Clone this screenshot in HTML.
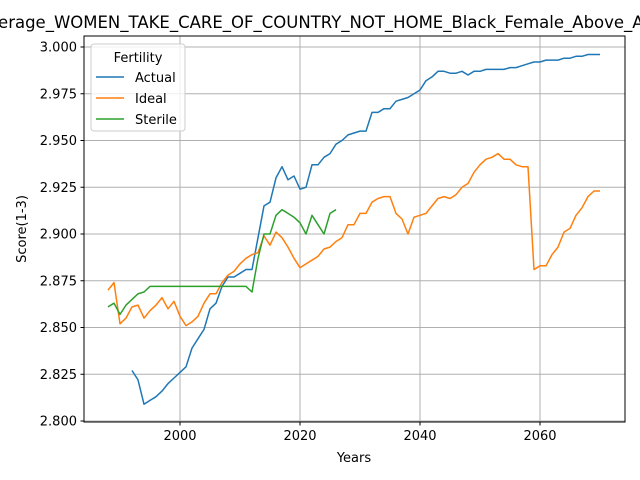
<!DOCTYPE html>
<html><head><meta charset="utf-8"><style>
body{margin:0;background:#fff;}
svg{display:block;font-family:"DejaVu Sans","Liberation Sans",sans-serif;}
</style></head><body>
<svg id="chart" width="640" height="480" viewBox="0 0 640 480">
<text x="339" y="28" font-size="16.5" text-anchor="middle">Average_WOMEN_TAKE_CARE_OF_COUNTRY_NOT_HOME_Black_Female_Above_Average</text>
<g id="grid"></g>
<g id="series"></g>
<rect x="84" y="36" width="541" height="386" fill="none" stroke="#000" stroke-width="1"/>
<g id="ticks"></g>
<text x="354" y="462" font-size="13" text-anchor="middle">Years</text>
<text x="26" y="229" font-size="13" text-anchor="middle" transform="rotate(-90 26 229)">Score(1-3)</text>
<g>
<rect x="91" y="44" width="94" height="87" rx="3" fill="#fff" fill-opacity="0.8" stroke="#ccc"/>
<text x="138" y="62" font-size="13" text-anchor="middle">Fertility</text>
<line x1="96" y1="77" x2="124" y2="77" stroke="#1f77b4" stroke-width="1.5"/>
<text x="135" y="82" font-size="13">Actual</text>
<line x1="96" y1="98" x2="124" y2="98" stroke="#ff7f0e" stroke-width="1.5"/>
<text x="135" y="103" font-size="13">Ideal</text>
<line x1="96" y1="119" x2="124" y2="119" stroke="#2ca02c" stroke-width="1.5"/>
<text x="135" y="124" font-size="13">Sterile</text>
</g>
</svg>
<script>
const xTicks = [2000, 2020, 2040, 2060];
const yTicks = [2.800, 2.825, 2.850, 2.875, 2.900, 2.925, 2.950, 2.975, 3.000];
const idealStart = 1988;
const idealValues = [2.870,2.874,2.852,2.855,2.861,2.862,2.855,2.859,2.862,2.866,2.860,2.864,2.856,2.851,2.853,2.856,2.863,2.868,2.868,2.874,2.878,2.880,2.884,2.887,2.889,2.890,2.899,2.894,2.901,2.898,2.893,2.887,2.882,2.884,2.886,2.888,2.892,2.893,2.896,2.898,2.905,2.905,2.911,2.911,2.917,2.919,2.920,2.920,2.911,2.908,2.900,2.909,2.910,2.911,2.915,2.919,2.920,2.919,2.921,2.925,2.927,2.933,2.937,2.940,2.941,2.943,2.940,2.940,2.937,2.936,2.936,2.881,2.883,2.883,2.889,2.893,2.901,2.903,2.910,2.914,2.920,2.923,2.923];
const actualStart = 1992;
const actualValues = [2.827,2.822,2.809,2.811,2.813,2.816,2.820,2.823,2.826,2.829,2.839,2.844,2.849,2.860,2.863,2.872,2.877,2.877,2.879,2.881,2.881,2.898,2.915,2.917,2.930,2.936,2.929,2.931,2.924,2.925,2.937,2.937,2.941,2.943,2.948,2.950,2.953,2.954,2.955,2.955,2.965,2.965,2.967,2.967,2.971,2.972,2.973,2.975,2.977,2.982,2.984,2.987,2.987,2.986,2.986,2.987,2.985,2.987,2.987,2.988,2.988,2.988,2.988,2.989,2.989,2.990,2.991,2.992,2.992,2.993,2.993,2.993,2.994,2.994,2.995,2.995,2.996,2.996,2.996];
const sterileStart = 1988;
const sterileValues = [2.861,2.863,2.857,2.862,2.865,2.868,2.869,2.872,2.872,2.872,2.872,2.872,2.872,2.872,2.872,2.872,2.872,2.872,2.872,2.872,2.872,2.872,2.872,2.872,2.869,2.887,2.900,2.900,2.910,2.913,2.911,2.909,2.906,2.900,2.910,2.905,2.900,2.911,2.913];

const NS = "http://www.w3.org/2000/svg";
function xs(year){ return 180 + (year - 2000) * 6; }
function ys(v){ return 421 - (v - 2.8) * 1870; }
const grid = document.getElementById('grid');
const ticks = document.getElementById('ticks');
function mk(tag, attrs, parent){ const e = document.createElementNS(NS, tag); for (const k in attrs) e.setAttribute(k, attrs[k]); parent.appendChild(e); return e; }
xTicks.forEach(t => {
  const x = xs(t);
  const g = mk('line', {x1:x, y1:36, x2:x, y2:422, stroke:'#b0b0b0', 'stroke-width':1}, grid);
  
  
  mk('line', {x1:x, y1:422, x2:x, y2:425.5, stroke:'#000'}, ticks);
  const l = mk('text', {x:x, y:440, 'font-size':13, 'text-anchor':'middle'}, ticks);
  l.textContent = t;
  
  
});
yTicks.forEach(t => {
  const y = ys(t);
  const g = mk('line', {x1:84, y1:y, x2:625, y2:y, stroke:'#b0b0b0', 'stroke-width':1}, grid);
  
  
  mk('line', {x1:80.5, y1:y, x2:84, y2:y, stroke:'#000'}, ticks);
  const l = mk('text', {x:77, y:y+4.5, 'font-size':13, 'text-anchor':'end'}, ticks);
  l.textContent = t.toFixed(3);
  
  
});
const series = document.getElementById('series');
function drawLine(start, vals, color, name){
  const pts = vals.map((v,i) => xs(start+i).toFixed(1)+','+ys(v).toFixed(1)).join(' ');
  const p = mk('polyline', {points:pts, fill:'none', stroke:color, 'stroke-width':1.5, 'stroke-linejoin':'round'}, series);
  
  
}
drawLine(actualStart, actualValues, '#1f77b4', 'actual-line');
drawLine(idealStart, idealValues, '#ff7f0e', 'ideal-line');
drawLine(sterileStart, sterileValues, '#2ca02c', 'sterile-line');
</script>
</body></html>
